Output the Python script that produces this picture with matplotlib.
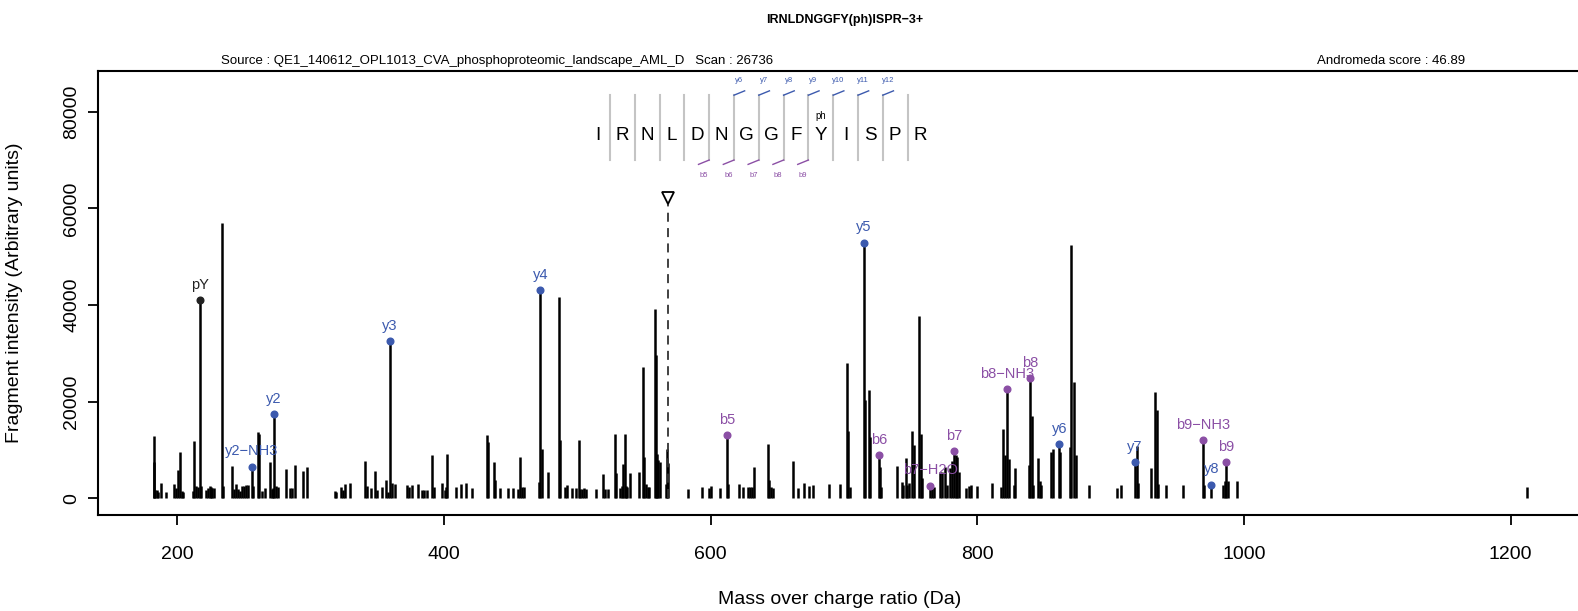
import matplotlib
matplotlib.use("Agg")
import matplotlib.pyplot as plt
import numpy as np

plt.rcParams['font.family'] = ['Liberation Sans', 'DejaVu Sans']

# ---- spectrum peaks (m/z, intensity), unannotated ----
peak_mz = [
    182.7, 182.9, 183.8, 185.0, 186.0, 188.2, 191.7, 198.0, 199.0, 200.4,
    202.0, 203.7, 204.5, 212.0, 212.9, 214.0, 215.5, 217.8, 222.0, 223.5,
    224.5, 225.5, 226.5, 228.0, 233.9, 234.5, 240.9, 243.0, 244.5, 245.5,
    247.0, 249.0, 250.5, 252.0, 253.5, 257.0, 260.9, 261.5, 263.5, 266.0,
    269.7, 271.0, 271.8, 274.0, 275.5, 281.7, 284.5, 286.0, 288.7, 294.7,
    297.6, 318.4, 319.5, 322.7, 324.4, 325.9, 329.7, 340.7, 342.2, 345.4,
    348.4, 349.7, 353.4, 356.4, 358.4, 360.9, 363.4, 372.6, 374.1, 375.9,
    380.4, 383.4, 385.4, 387.6, 391.4, 392.7, 398.7, 400.7, 401.9, 402.4,
    409.2, 412.7, 416.4, 420.9, 432.2, 432.9, 437.4, 438.4, 442.4, 448.4,
    452.1, 455.4, 457.4, 459.0, 459.8, 471.6, 473.4, 477.9, 486.2, 487.1,
    491.1, 492.6, 495.9, 498.9, 501.5, 502.5, 504.0, 505.5, 507.0, 514.1,
    519.6, 520.9, 523.4, 528.2, 529.4, 532.2, 533.7, 534.7, 535.7, 536.7,
    537.7, 539.7, 546.5, 549.1, 550.4, 551.6, 553.0, 554.0, 558.4, 559.1,
    559.7, 560.9, 562.1, 566.6, 567.4, 568.4, 583.4, 593.4, 599.1, 600.2,
    607.4, 613.4, 621.2, 624.1, 627.9, 629.5, 631.3, 632.8, 643.1, 644.1,
    645.4, 647.1, 662.1, 665.4, 670.1, 674.1, 677.1, 689.1, 697.1, 702.1,
    702.9, 704.6, 715.9, 718.9, 719.6, 726.9, 727.8, 739.6, 743.6, 744.6,
    746.6, 747.6, 749.1, 751.3, 752.4, 756.6, 757.6, 758.8, 766.3, 767.8,
    772.1, 773.4, 775.8, 777.1, 779.6, 781.4, 783.9, 784.7, 786.1, 791.6,
    794.1, 795.4, 799.7, 810.9, 817.9, 819.6, 820.9, 823.9, 827.6, 828.6,
    838.9, 841.0, 842.0, 845.5, 846.7, 848.0, 855.5, 856.6, 862.3, 869.6,
    870.6, 872.6, 874.1, 883.9, 904.6, 907.6, 919.6, 920.6, 930.3, 933.3,
    934.6, 935.6, 941.6, 954.6, 970.4, 984.2, 985.9, 988.0, 994.7, 1212.1,
]
peak_int = [
    12950, 7570, 1800, 1700, 1200, 3100, 1200, 2900, 2200, 5850,
    9650, 1500, 1200, 1500, 11900, 2500, 2300, 2600, 1800, 2200,
    2600, 2400, 2100, 2200, 57000, 2500, 6750, 2000, 2900, 2000,
    1600, 2600, 2500, 2700, 2800, 2500, 13800, 13300, 1500, 2200,
    7600, 2000, 2200, 2500, 2300, 6060, 2100, 2100, 6900, 5750,
    6500, 1600, 1400, 2300, 1800, 2900, 3100, 7690, 2500, 2200,
    5650, 1800, 2300, 3800, 1400, 3100, 2900, 2800, 2300, 2800,
    2900, 1700, 1700, 1700, 8980, 2300, 3100, 1800, 2300, 9120,
    2400, 2900, 3100, 2200, 13200, 11700, 7450, 3800, 2200, 2200,
    2200, 2000, 8480, 2400, 2400, 3300, 10200, 5450, 41700, 12100,
    2300, 2800, 2100, 2100, 12050, 2000, 2000, 2100, 1900, 2000,
    5000, 2000, 2000, 13300, 5200, 2200, 2600, 7000, 13400, 2600,
    2300, 5200, 5500, 27100, 8500, 2900, 2300, 2300, 39170, 29700,
    9100, 7900, 7500, 2900, 10200, 7300, 2000, 2300, 2100, 2600,
    2100, 3000, 2900, 2400, 2400, 2400, 2400, 6400, 11200, 3800,
    2400, 2100, 7700, 2100, 3100, 2500, 2800, 2900, 2900, 28060,
    13920, 2400, 20270, 22340, 12750, 6400, 2400, 6700, 3300, 2800,
    8300, 2800, 3100, 13920, 11000, 37780, 13300, 4200, 2600, 2400,
    5400, 5400, 6400, 2800, 6200, 7800, 9000, 8500, 5400, 2100,
    2600, 2800, 2600, 3100, 2400, 14340, 8960, 8070, 2750, 6200,
    6890, 17030, 2750, 8410, 3580, 2750, 9650, 10130, 9650, 10550,
    52440, 24000, 8960, 2750, 2100, 2750, 10820, 3100, 6330, 21930,
    18270, 3000, 2750, 2750, 2750, 2800, 3500, 3500, 3500, 2400,
]

# ---- annotated fragment ions ----
ion_names = ["pY", "y2\u2212NH3", "y2", "y3", "y4", "b5", "y5", "b6",
             "b7\u2212H2O", "b7", "b8\u2212NH3", "b8", "y6", "y7",
             "b9\u2212NH3", "y8", "b9"]
ion_mz = [216.9, 255.9, 272.7, 359.6, 472.4, 612.2, 714.9, 726.1,
          764.6, 782.9, 822.6, 839.9, 861.6, 918.3, 969.6, 975.6, 986.7]
ion_int = [41030, 6540, 17380, 32550, 43120, 13100, 52880, 8890,
           2610, 9790, 22610, 24890, 11230, 7450, 12000, 2820, 7500]
ion_kind = ["imm", "y", "y", "y", "y", "b", "y", "b",
            "b", "b", "b", "b", "y", "y", "b", "y", "b"]

precursor_mz = 567.9
precursor_marker = 62130

# ---- peptide coverage diagram ----
sequence = list("IRNLDNGGFYISPR")
mod_pos = {9: "ph"}
y_cov = ["y6", "y7", "y8", "y9", "y10", "y11", "y12"]   # separators 5..11
b_cov = ["b5", "b6", "b7", "b8", "b9"]                   # separators 4..8

BLUE = "#3c5aae"
PURPLE = "#8b4fa5"
kind_color = {"y": BLUE, "b": PURPLE, "imm": "#222222"}

fig = plt.figure(figsize=(15.78, 6.11), dpi=100)
ax = fig.add_axes([98 / 1578, 1 - 515.4 / 611, (1584 - 98) / 1578, (515.4 - 70.5) / 611])

ax.vlines(peak_mz, 0, peak_int, color="black", lw=1.8)
ax.vlines(ion_mz, 0, ion_int, color="black", lw=1.8)
for name, mz, inten, kind in zip(ion_names, ion_mz, ion_int, ion_kind):
    c = kind_color[kind]
    ax.plot(mz, inten, "o", color=c, ms=4.8, zorder=3)
    ax.annotate(name, (mz, inten), xytext=(0, 11), textcoords="offset points",
                ha="center", va="center", color=c, fontsize=10.5, zorder=4)

# precursor
ax.vlines(precursor_mz, 0, precursor_marker - 1000, color="#333333", lw=1.3,
          linestyles=(0, (5, 3.5)))
ax.plot(precursor_mz, precursor_marker, "v", ms=9, mfc="white", mec="black", mew=1.3)

# coverage diagram (data units)
x0, step = 515.3, 18.6
letter_y, sep_lo, sep_hi = 75170, 70000, 83420
for i, aa in enumerate(sequence):
    x = x0 + i * step
    ax.text(x, letter_y, aa, ha="center", va="center", fontsize=13.6)
    if i in mod_pos:
        ax.text(x, 79160, mod_pos[i], ha="center", va="center", fontsize=6.9)
    if i < len(sequence) - 1:
        ax.plot([x + step / 2] * 2, [sep_lo, sep_hi], color="#c4c4c4", lw=1.5)
for k, lab in enumerate(y_cov):
    xs = x0 + (5 + k) * step + step / 2
    ax.plot([xs, xs + 8.0], [sep_hi, sep_hi + 900], color=BLUE, lw=1)
    ax.text(xs + 3.8, 86400, lab, ha="center", va="center", fontsize=5.5, color=BLUE)
for k, lab in enumerate(b_cov):
    xs = x0 + (4 + k) * step + step / 2
    ax.plot([xs - 8.0, xs], [sep_lo - 900, sep_lo], color=PURPLE, lw=1)
    ax.text(xs - 4.0, 66890, lab, ha="center", va="center", fontsize=5.5, color=PURPLE)

ax.set_xlim(140.7, 1255)
ax.set_ylim(-3540, 88530)
ax.set_xticks(np.arange(200, 1201, 200))
ax.set_yticks(np.arange(0, 80001, 20000))
ax.set_xticklabels([str(v) for v in range(200, 1201, 200)])
ax.set_yticklabels([str(v) for v in range(0, 80001, 20000)])
for s in ax.spines.values():
    s.set_linewidth(1.5)
ax.tick_params(axis="both", length=7.2, width=1.3, labelsize=14)
ax.tick_params(axis="x", pad=15)
ax.tick_params(axis="y", pad=5.5)
for t in ax.get_yticklabels():
    t.set_rotation(90)
    t.set_va("center")

fig.text(845 / 1578, 1 - 20 / 611, "IRNLDNGGFY(ph)ISPR\u22123+", ha="center", va="center",
         fontsize=9, fontweight="bold")
fig.text(221 / 1578, 1 - 61.4 / 611,
         "Source : QE1_140612_OPL1013_CVA_phosphoproteomic_landscape_AML_D   Scan : 26736",
         ha="left", va="center", fontsize=9.5)
fig.text(1391 / 1578, 1 - 61.4 / 611, "Andromeda score : 46.89", ha="center", va="center",
         fontsize=9.5)
fig.text(15 / 1578, 1 - 293 / 611, "Fragment intensity (Arbitrary units)", rotation=90,
         ha="center", va="center", fontsize=14)
fig.text(840 / 1578, 1 - 599 / 611, "Mass over charge ratio (Da)", ha="center", va="center",
         fontsize=14)

fig.savefig("out.png", dpi=100)
